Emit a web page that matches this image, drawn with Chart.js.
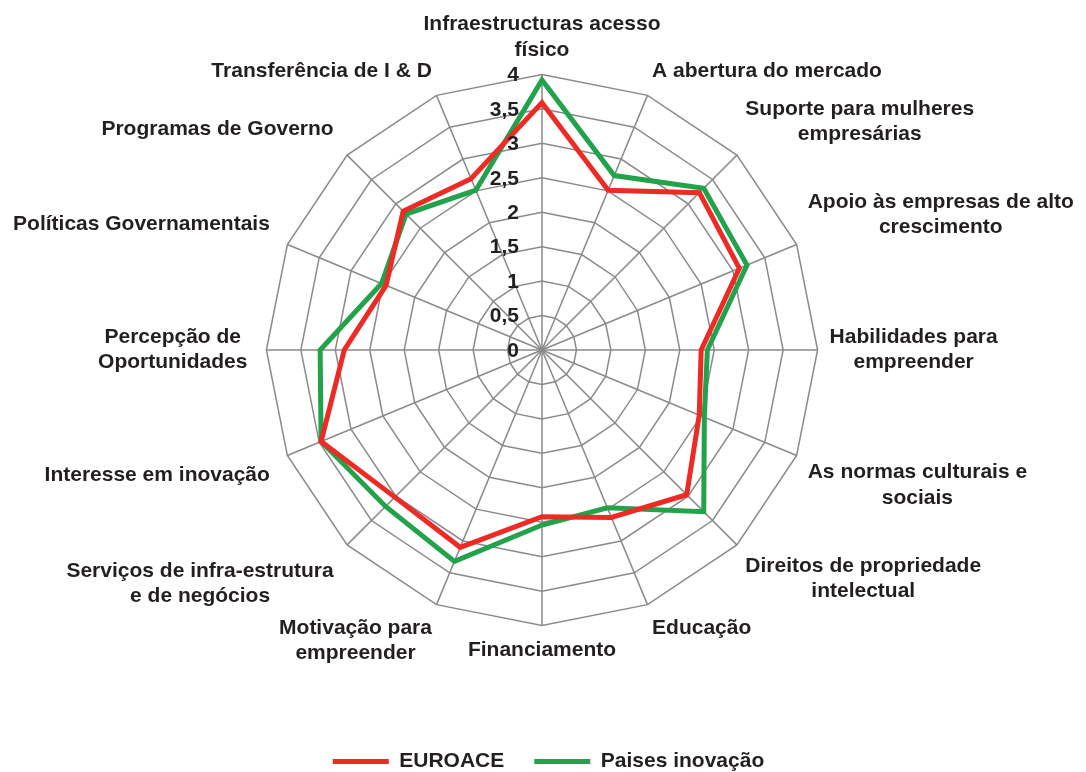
<!DOCTYPE html>
<html>
<head>
<meta charset="utf-8">
<script src="https://cdn.jsdelivr.net/npm/chart.js@4/dist/chart.umd.min.js"></script>
<style>
  html, body { margin: 0; padding: 0; background: #fff; }
  #wrap { width: 1086px; height: 772px; }
</style>
</head>
<body>
<div id="wrap"><canvas id="myChart"></canvas></div>
<script>
// categorias (sentido horario a partir do topo)
let categories = [
    ['Infraestructuras acesso', 'físico'],
    'A abertura do mercado',
    ['Suporte para mulheres', 'empresárias'],
    ['Apoio às empresas de alto', 'crescimento'],
    ['Habilidades para', 'empreender'],
    ['As normas culturais e', 'sociais'],
    ['Direitos de propriedade', 'intelectual'],
    'Educação',
    'Financiamento',
    ['Motivação para', 'empreender'],
    ['Serviços de infra-estrutura', 'e de negócios'],
    'Interesse em inovação',
    ['Percepção de', 'Oportunidades'],
    'Políticas Governamentais',
    'Programas de Governo',
    'Transferência de I & D'
];

let euroace = [3.59, 2.51, 3.23, 3.10, 2.31, 2.47, 2.97, 2.63, 2.42, 3.10, 3.02, 3.47, 2.87, 2.45, 2.85, 2.69];
let paises  = [3.92, 2.74, 3.32, 3.22, 2.40, 2.55, 3.32, 2.48, 2.54, 3.32, 3.21, 3.47, 3.22, 2.52, 2.79, 2.51];

let tickValues = [0, 0.5, 1, 1.5, 2, 2.5, 3, 3.5, 4];
let tickLabels = ['0', '0,5', '1', '1,5', '2', '2,5', '3', '3,5', '4'];

let textColor = '#231f20';
let gridColor = '#8a8a8a';
let fontFamily = '"Liberation Sans", Arial, sans-serif';
let labelSize = 21;
let labelLine = 25.2;

// os rotulos do lado esquerdo ficam um pouco mais afastados
function labelPad(i) {
    return (i >= 10 && i <= 14) ? 19 : 12;
}

// valores da escala a esquerda do eixo + rotulos centrados
let drawPlugin = {
    id: 'customText',
    afterDraw(chart) {
        let scale = chart.scales.r;
        let ctx = chart.ctx;
        ctx.save();
        ctx.fillStyle = textColor;

        ctx.font = 'bold 21px ' + fontFamily;
        ctx.textAlign = 'right';
        ctx.textBaseline = 'middle';
        tickValues.forEach((v, i) => {
            let d = scale.getDistanceFromCenterForValue(v);
            ctx.fillText(tickLabels[i], scale.xCenter - 23, scale.yCenter - d + 1);
        });

        ctx.font = 'bold ' + labelSize + 'px ' + fontFamily;
        ctx.textAlign = 'center';
        categories.forEach((label, i) => {
            let lines = Array.isArray(label) ? label : [label];
            let w = Math.max(...lines.map(t => ctx.measureText(t).width));
            let h = lines.length * labelLine;
            let p = scale.getPointPosition(i, scale.drawingArea + labelPad(i));
            let deg = Math.round(i * 360 / categories.length);
            let left;
            if (deg === 0 || deg === 180) left = p.x - w / 2;
            else if (deg < 180) left = p.x;
            else left = p.x - w;
            let top = p.y;
            if (deg === 90 || deg === 270) top -= h / 2;
            else if (deg > 270 || deg < 90) top -= h;
            lines.forEach((t, k) => {
                ctx.fillText(t, left + w / 2, top + labelLine * (k + 0.5));
            });
        });
        ctx.restore();
    }
};

new Chart('myChart', {
    type: 'radar',
    data: {
        labels: categories,
        datasets: [{
            label: 'EUROACE',
            data: euroace,
            borderColor: '#ee2a24',
            backgroundColor: '#ee2a24',
            borderWidth: 5,
            borderCapStyle: 'round',
            pointRadius: 0,
            fill: false
        }, {
            label: 'Paises inovação',
            data: paises,
            borderColor: '#22a24a',
            backgroundColor: '#22a24a',
            borderWidth: 5,
            borderCapStyle: 'round',
            pointRadius: 0,
            fill: false
        }]
    },
    options: {
        responsive: true,
        maintainAspectRatio: false,
        animation: false,
        layout: { padding: { top: -15, bottom: -10, left: 2, right: -9 } },
        elements: { line: { tension: 0 } },
        plugins: {
            legend: {
                position: 'bottom',
                title: { display: true, text: ' ', font: { size: 1 }, padding: { top: 0, bottom: 42 } },
                labels: {
                    usePointStyle: true,
                    pointStyle: 'line',
                    pointStyleWidth: 56,
                    boxHeight: 21,
                    padding: 30,
                    color: textColor,
                    font: { size: 21, weight: 'bold', family: fontFamily }
                }
            },
            tooltip: { enabled: false }
        },
        scales: {
            r: {
                min: 0,
                max: 4,
                ticks: { stepSize: 0.5, display: false },
                grid: { color: gridColor, lineWidth: 1.5 },
                angleLines: { color: gridColor, lineWidth: 1.5 },
                pointLabels: {
                    // desenhados pelo plugin, aqui so para reservar o espaco
                    color: 'rgba(0,0,0,0)',
                    padding: ctx => labelPad(ctx.index),
                    font: { size: labelSize, weight: 'bold', family: fontFamily, lineHeight: 1.2 }
                }
            }
        }
    },
    plugins: [drawPlugin]
});
</script>
</body>
</html>
